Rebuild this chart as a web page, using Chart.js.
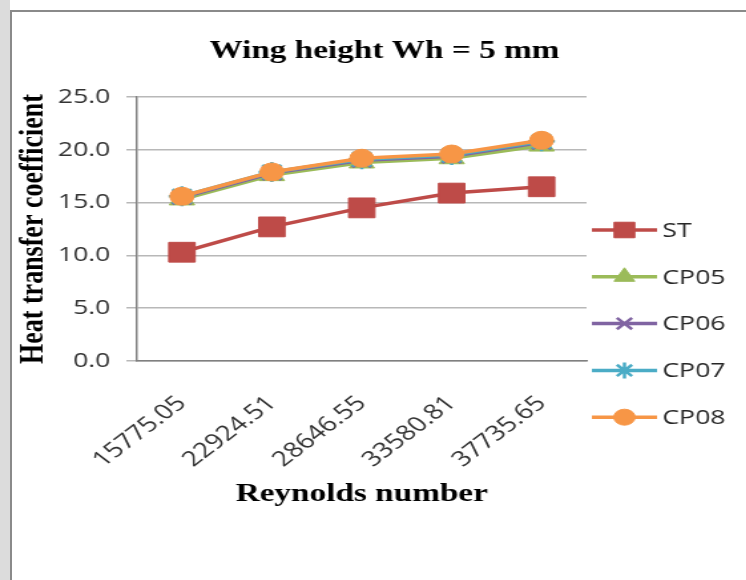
<!DOCTYPE html>
<html>
<head>
<meta charset="utf-8">
<script src="https://cdn.jsdelivr.net/npm/chart.js@4"></script>
<style>
  html, body { margin: 0; padding: 0; background: #fff; }
  body { width: 746px; height: 580px; position: relative; overflow: hidden; }
  #strip { position: absolute; left: 0; top: 0; width: 10px; height: 580px; background: #dcdcdc; }
  #frame { position: absolute; left: 10px; top: 10px; width: 760px; height: 600px;
           border-left: 2px solid #8a8a8a; border-top: 2px solid #8a8a8a; }
  /* the reference picture is stretched sideways, so the canvas is too */
  #wrap { position: absolute; left: 0; top: 0; width: 561px; height: 580px;
          transform: scaleX(1.33); transform-origin: 0 0; }
</style>
</head>
<body>
<div id="strip"></div>
<div id="frame"></div>
<div id="wrap"><canvas id="heatChart" width="561" height="580"></canvas></div>
<script>
// data
var reynolds = ['15775.05', '22924.51', '28646.55', '33580.81', '37735.65'];
var st   = [10.3, 12.7, 14.5, 15.9, 16.5];
var cp05 = [15.3, 17.6, 18.8, 19.2, 20.4];
var cp06 = [15.5, 17.8, 19.0, 19.4, 20.7];
var cp07 = [15.6, 17.9, 19.1, 19.5, 20.8];
var cp08 = [15.6, 17.9, 19.2, 19.6, 20.9];
var seriesNames = ['ST', 'CP05', 'CP06', 'CP07', 'CP08'];
var yTicks = [0, 5, 10, 15, 20, 25];
var chartTitle = 'Wing height Wh = 5 mm';

var colors = ['#be4b48', '#9bbb59', '#8064a2', '#4bacc6', '#f79646'];
var styles = ['rect', 'triangle', 'crossRot', 'star', 'circle'];
var radii = [14, 11, 10, 10, 9];
var legendRadii = [11, 9, 8, 8, 8];

function makeSet(i, values) {
    return {
        label: seriesNames[i],
        data: values,
        borderColor: colors[i],
        backgroundColor: colors[i],
        pointBackgroundColor: colors[i],
        pointBorderColor: colors[i],
        pointStyle: styles[i],
        pointRadius: radii[i],
        pointBorderWidth: (styles[i] === 'crossRot' || styles[i] === 'star') ? 2.5 : 1,
        borderWidth: 3.5,
        tension: 0,
        fill: false,
        order: 4 - i
    };
}

// title sits right of the plot centre in the original, so draw it here
var topTitle = {
    id: 'topTitle',
    afterDraw: function(chart) {
        var ctx = chart.ctx;
        ctx.save();
        ctx.fillStyle = '#000';
        ctx.font = 'bold 25px "Liberation Serif"';
        ctx.textAlign = 'center';
        ctx.textBaseline = 'middle';
        ctx.fillText(chartTitle, 289, 52);
        ctx.restore();
    }
};

// line + marker legend on the right, like the spreadsheet one
var sideLegend = {
    id: 'sideLegend',
    afterDraw: function(chart) {
        var ctx = chart.ctx;
        var x0 = 445, x1 = 494, tx = 498, y0 = 230, step = 46.8;
        chart.data.datasets.forEach(function(ds, i) {
            var y = y0 + i * step;
            ctx.save();
            ctx.strokeStyle = ds.borderColor;
            ctx.fillStyle = ds.borderColor;
            ctx.lineWidth = 3.5;
            ctx.beginPath();
            ctx.moveTo(x0, y);
            ctx.lineTo(x1, y);
            ctx.stroke();
            ctx.lineWidth = ds.pointBorderWidth;
            Chart.helpers.drawPoint(ctx, {
                pointStyle: ds.pointStyle,
                radius: legendRadii[i],
                borderWidth: ds.pointBorderWidth,
                rotation: 0
            }, (x0 + x1) / 2, y);
            ctx.fillStyle = '#262626';
            ctx.font = '20px "Open Sans"';
            ctx.textBaseline = 'middle';
            ctx.textAlign = 'left';
            ctx.fillText(ds.label, tx, y + 1);
            ctx.restore();
        });
    }
};

var ctxHeat = document.getElementById('heatChart').getContext('2d');
var heatChart = new Chart(ctxHeat, {
    type: 'line',
    data: {
        labels: reynolds,
        datasets: [makeSet(0, st), makeSet(1, cp05), makeSet(2, cp06), makeSet(3, cp07), makeSet(4, cp08)]
    },
    options: {
        responsive: false,
        animation: false,
        layout: {
            padding: { left: 10, right: 120, top: 97, bottom: 70 }
        },
        plugins: {
            legend: { display: false },
            tooltip: { enabled: false },
            title: { display: false }
        },
        scales: {
            x: {
                offset: true,
                grid: { display: false },
                border: { display: true, color: '#808080', width: 1.5 },
                ticks: {
                    color: '#333',
                    font: { family: '"Open Sans"', size: 21 },
                    minRotation: 45,
                    maxRotation: 45,
                    padding: 22
                },
                title: {
                    display: true,
                    text: 'Reynolds number',
                    color: '#000',
                    font: { family: '"Liberation Serif"', size: 25, weight: 'bold' },
                    padding: { top: 0, bottom: 0 }
                },
                afterFit: function(scale) { scale.height = 580 - 361 - 70; }
            },
            y: {
                min: 0,
                max: 25,
                afterBuildTicks: function(scale) {
                    scale.ticks = yTicks.map(function(v) { return { value: v }; });
                },
                grid: { color: '#b8b8b8', lineWidth: 1.5, tickLength: 8 },
                border: { display: true, color: '#808080', width: 1.5 },
                ticks: {
                    color: '#333',
                    font: { family: '"Open Sans"', size: 20 },
                    padding: 12,
                    callback: function(v) { return Number(v).toFixed(1); }
                },
                title: {
                    display: true,
                    text: 'Heat transfer coefficient',
                    color: '#000',
                    font: { family: '"Liberation Serif"', size: 26, weight: 'bold' },
                    padding: { top: 0, bottom: 0 }
                },
                afterFit: function(scale) { scale.width = 93; }
            }
        }
    },
    plugins: [topTitle, sideLegend]
});
</script>
</body>
</html>
